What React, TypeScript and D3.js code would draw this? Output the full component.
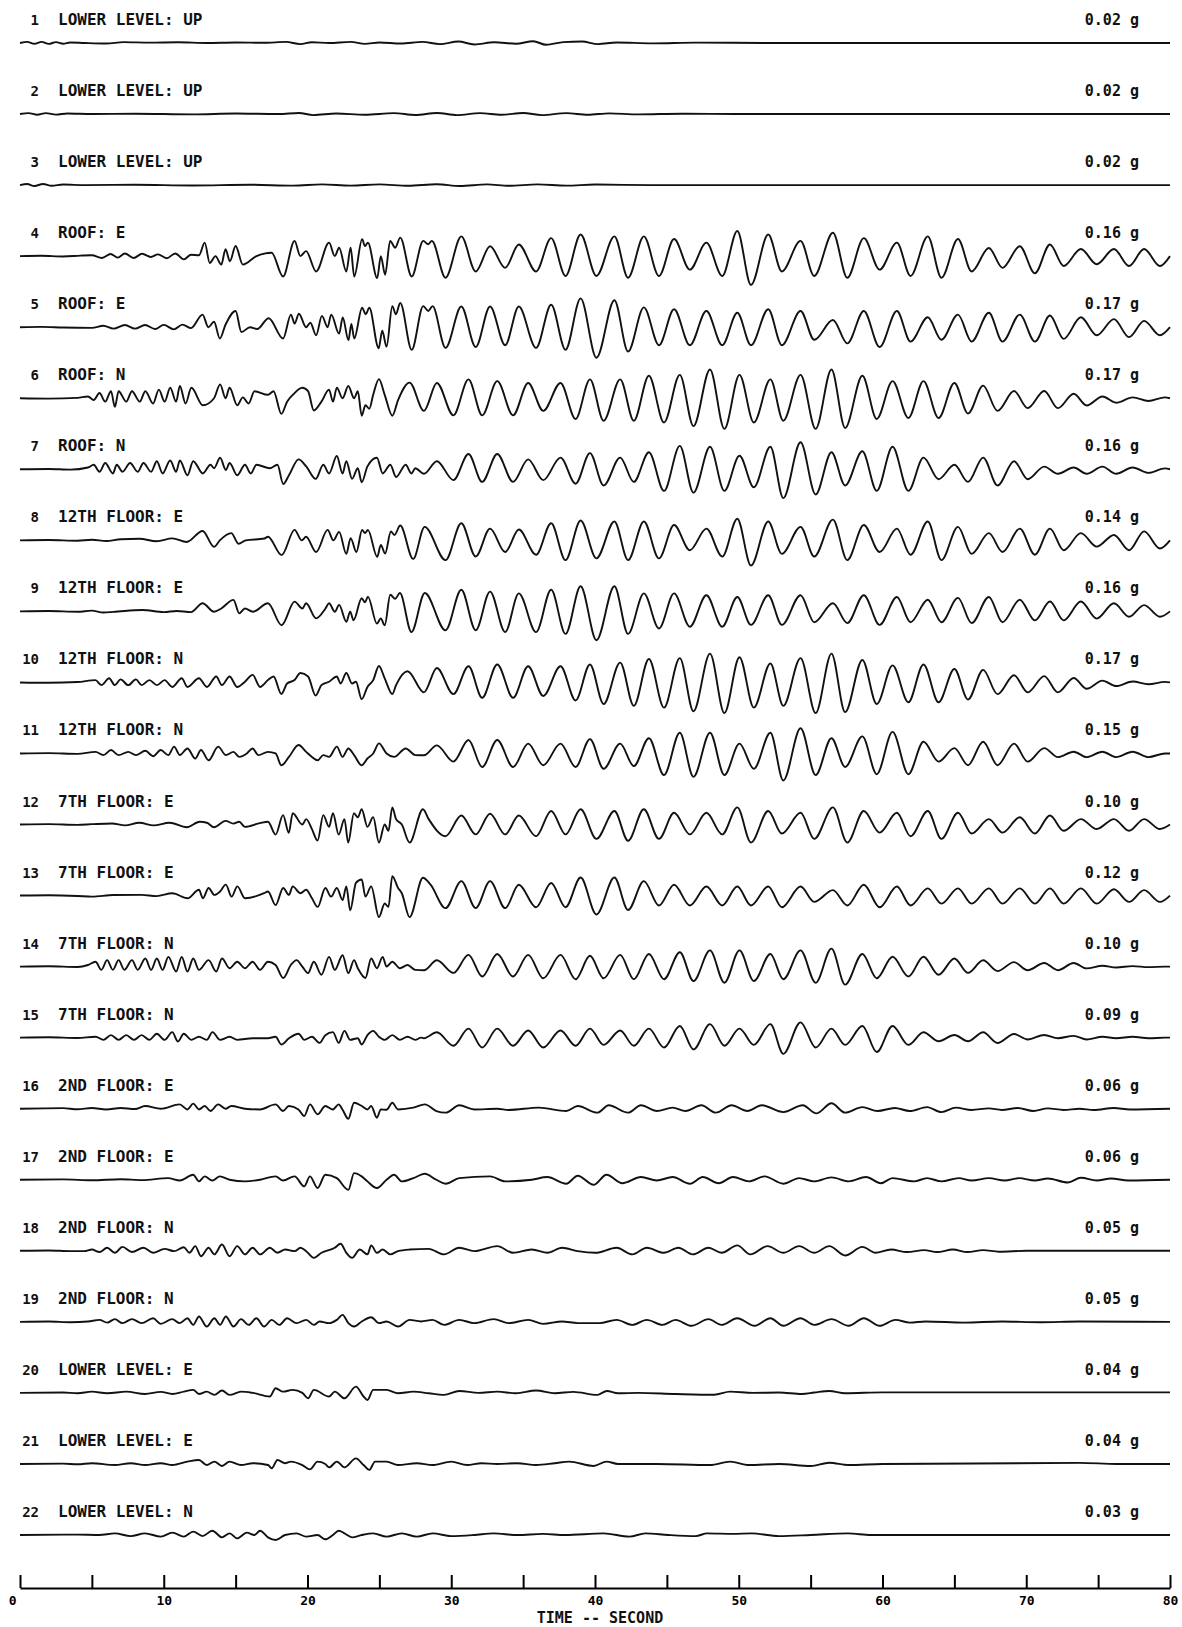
import React, { useRef, useEffect } from 'react';
import * as d3 from 'd3';

const FONT = '"DejaVu Sans Mono", "Liberation Mono", monospace';

const channelLabels = [
  'LOWER LEVEL: UP', 'LOWER LEVEL: UP', 'LOWER LEVEL: UP',
  'ROOF: E', 'ROOF: E', 'ROOF: N', 'ROOF: N',
  '12TH FLOOR: E', '12TH FLOOR: E', '12TH FLOOR: N', '12TH FLOOR: N',
  '7TH FLOOR: E', '7TH FLOOR: E', '7TH FLOOR: N', '7TH FLOOR: N',
  '2ND FLOOR: E', '2ND FLOOR: E', '2ND FLOOR: N', '2ND FLOOR: N',
  'LOWER LEVEL: E', 'LOWER LEVEL: E', 'LOWER LEVEL: N',
];
const peakAccel = [0.02, 0.02, 0.02, 0.16, 0.17, 0.17, 0.16, 0.14, 0.16, 0.17, 0.15,
  0.10, 0.12, 0.10, 0.09, 0.06, 0.06, 0.05, 0.05, 0.04, 0.04, 0.03];

const timeTicks = [0, 5, 10, 15, 20, 25, 30, 35, 40, 45, 50, 55, 60, 65, 70, 75, 80];

// times (s) of the troughs/peaks of the long period building response
const eastTimes = [29.6, 30.7, 31.7, 32.7, 33.75, 34.7, 35.9, 36.95, 37.95, 39.0, 40.1, 41.35, 42.3,
  43.4, 44.45, 45.5, 46.6, 47.75, 48.85, 49.9, 50.85, 52.05, 53.0, 54.3, 55.25, 56.55, 57.55, 58.7,
  59.8, 61.0, 61.95, 63.15, 64.1, 65.25, 66.2, 67.4, 68.35, 69.55, 70.6, 71.65, 72.6, 73.8, 74.9,
  76.1, 77.15, 78.2, 79.3];
const northTimes = [28.1, 29.0, 30.15, 31.2, 32.15, 33.2, 34.3, 35.35, 36.4, 37.6, 38.65, 39.65,
  40.6, 41.75, 42.7, 43.75, 44.8, 45.9, 46.85, 48.0, 49.0, 50.05, 51.05, 52.2, 53.1, 54.3, 55.35,
  56.45, 57.4, 58.6, 59.6, 60.7, 61.8, 62.85, 63.9, 65.0, 65.95, 67.0, 68.0, 69.15, 70.1, 71.25,
  72.2, 73.3, 74.2, 75.3, 76.25, 77.4, 78.5, 79.65];

// all accelerations below are in hundredths of g
const lowerUp1 = [[0, 0], [0.5, 0.6], [1, -0.4], [1.5, 0.6], [2, -0.5], [2.5, 0.5], [3, -0.4], [3.5, 0.3], [4.5, 0], [6, -0.3], [7.2, 0.5], [9, 0.2], [11, 0.4], [13, 0], [15, 0.3], [17, 0.1], [18.5, 0.6], [19.5, -0.6], [20.3, 0.4], [21.5, 0], [23, 0.6], [24, -0.5], [25, 0.3], [26.5, -0.3], [28, 0.6], [29.2, -0.6], [30.5, 0.8], [31.6, -0.8], [33, 0.4], [34.5, -0.4], [35.7, 1], [36.6, -1], [37.8, 0.5], [39.1, 0.8], [40.2, -0.6], [41.5, 0.3], [44, -0.2], [47, 0.2], [52, 0], [80, 0]];
const lowerUp2 = [[0, 0], [0.6, 0.5], [1.2, -0.4], [1.8, 0.5], [2.5, -0.3], [3.3, 0.3], [5, 0], [8, 0.2], [12, -0.2], [15, 0.3], [18, 0], [19.4, 0.6], [20.4, -0.6], [22, 0.3], [24, -0.4], [26, 0.5], [27.5, -0.5], [29, 0.6], [30.4, -0.6], [32, 0.5], [33.5, -0.4], [35, 0.6], [36.3, -0.6], [38, 0.5], [39.5, -0.4], [41, 0.4], [43, -0.2], [46, 0.2], [50, 0], [80, 0]];
const lowerUp3 = [[0, 0], [0.5, 0.6], [1, -0.5], [1.6, 0.6], [2.2, -0.4], [3, 0.3], [4.5, 0], [8, 0.2], [12, -0.2], [16, 0.2], [19, -0.3], [21, 0.4], [23, -0.3], [25, 0.4], [27, -0.4], [29, 0.5], [30.6, -0.5], [32.5, 0.4], [34, -0.4], [36, 0.4], [38, -0.3], [40, 0.3], [44, 0], [80, 0]];

const roofE4Early = [[0, 0], [1.5, 0.2], [3, -0.2], [4.2, 0.3], [5, 0.5], [5.7, -1], [6.3, 1.2], [6.8, -0.8], [7.3, 1.5], [7.9, -1], [8.5, 1.3], [9.1, -0.5], [9.6, 1], [10.2, -1.2], [10.8, 1.5], [11.4, -1.8], [11.9, 0.8], [12.45, 0.5], [12.85, 7.5], [13.2, -3.8], [13.6, 0], [14.0, -4.7], [14.3, 3.8], [14.6, -2.8], [15.0, 5.6], [15.5, -4.7], [16.45, 0], [17.5, 1.9], [18.3, -11.3], [19.1, 8.5], [19.5, 0], [19.9, 2.8], [20.6, -8.5], [21.5, 7.5], [21.9, 0], [22.2, 4.7], [22.7, -8.5], [23.0, 4.7], [23.25, -11.3], [23.8, 9.4], [24.0, 5.6], [24.2, 7.5], [24.85, -12.2], [25.1, 0], [25.4, -10.3], [25.75, 8.5], [26.1, 4.7], [26.45, 10.3], [27.25, -11.3], [28.05, 8.5], [28.4, 6.6], [28.65, 8.5]];
const roofE4Late = [-12, 11, -8.5, 5.5, -6.5, 6.5, -8.5, 10, -11, 12, -11, 11, -12, 11, -11, 9.5, -7.5, 7.5, -11, 14, -16, 12, -8.5, 8.5, -11, 13, -12, 10, -7.5, 7.5, -11, 11, -12, 9.5, -8.5, 4.5, -6.5, 5.5, -9.5, 6.5, -5.5, 4, -4.5, 4, -5.5, 4, -5.5];

const roofE5Early = [[0, 0], [1.5, 0.2], [3, -0.2], [5, -0.4], [5.8, 0.8], [6.5, -0.8], [7.3, 1.2], [8, -0.8], [8.7, 1.2], [9.4, -1], [10, 1.3], [10.7, -1.2], [11.3, 1.4], [11.9, -0.5], [12.7, 7], [13.1, 0], [13.5, 3], [13.9, -6.3], [14.3, 1.5], [15, 9], [15.4, -2.7], [16, 0], [16.5, -1], [17.3, 5], [18.3, -6.3], [18.85, 7], [19.1, 2], [19.4, 7.5], [19.9, 0], [20.2, 2.5], [20.6, -4.5], [21, 6.3], [21.4, 0], [21.65, 7], [22.2, -3.6], [22.45, 5.4], [22.85, -7.2], [23.05, 1.8], [23.25, -6.3], [23.8, 10.8], [24.05, 7.2], [24.3, 10.8], [24.95, -11.7], [25.2, -2], [25.5, -10.8], [25.9, 11.7], [26.15, 7.2], [26.45, 13.5], [27.25, -12.6], [28.05, 11.7], [28.4, 9], [28.7, 11.7]];
const roofE5Late = [-11.5, 11.5, -11, 11.5, -10, 11.5, -11.5, 12.5, -12.5, 16, -17, 15, -13.5, 11, -10, 10, -10, 9, -10, 8, -10, 10, -10, 9, -7, 4, -9, 9, -11, 9, -8, 5.5, -7, 7, -8, 8, -8, 7, -8, 6.5, -6.5, 5.5, -4.5, 4.5, -5.5, 3.5, -4.5];

const roofN6Early = [[0, 0], [2, -0.2], [4, 0.2], [4.73, 1], [5.13, -1], [5.53, 2.9], [5.93, -1.9], [6.33, 3.9], [6.6, -4.8], [6.86, 3.9], [7.39, -1.9], [7.79, 3.9], [8.33, -1.9], [8.72, 3.9], [9.26, -2.9], [9.66, 4.8], [10.06, -1.9], [10.45, 5.8], [10.86, -1.9], [11.12, 6.8], [11.52, -2.9], [11.92, 5.8], [12.72, -3.9], [13.5, 0], [13.92, 7.7], [14.3, 0], [14.58, 5.8], [15.11, -3.9], [15.5, 0.5], [15.91, -2.9], [16.31, 3.9], [17.25, 1.9], [17.64, 3.9], [18.18, -8.7], [18.58, -1.9], [18.98, 1.9], [19.64, 5.8], [20.04, 3.9], [20.44, -6.8], [20.97, -1.9], [21.5, 4.8], [21.77, -1.9], [22.04, 5.8], [22.44, 0], [22.84, 6.8], [23.24, 0], [23.5, 3.9], [23.77, -9.7], [24.03, -3.9], [24.3, -5.8], [24.57, 1.9], [24.97, 10.6], [25.37, 1.9], [25.9, -9.7], [26.3, -1], [27.1, 8.7]];
const roofN6Late = [-7, 8.5, -9.5, 10.5, -9.5, 9.5, -9.5, 8.5, -7, 8.5, -11.5, 10.5, -12.5, 10.5, -12.5, 12.5, -13.5, 13, -15.5, 16, -17, 13, -13.5, 10.5, -12.5, 13, -17, 16, -16.5, 12.5, -11.5, 9.5, -11, 9.5, -11, 8.5, -8.5, 7, -7, 4, -5.5, 4, -5.5, 2.5, -4, 1, -2.5, 0.5, -1.5, 0.5];

const roofN7Early = [[0, 0], [2, 0.2], [3.5, -0.2], [4.73, 1], [5.13, 2.5], [5.53, -1.4], [5.93, 3.5], [6.46, -2.3], [6.73, 2.5], [7.13, -1.4], [7.66, 3.5], [8.19, -1.4], [8.59, 3.5], [9.12, -1.4], [9.52, 4.5], [9.92, -2.3], [10.45, 4.9], [10.86, -1.4], [11.12, 4.9], [11.65, -3.3], [12.05, 4.5], [12.72, -2.3], [13.25, 2.5], [13.5, 0.6], [13.92, 6.4], [14.32, -0.4], [14.58, 3.5], [15.11, -3.3], [15.65, 2.5], [16.05, -2.3], [16.45, 2.5], [17.38, 0.6], [17.91, 2.5], [18.31, -8.2], [18.71, -3.3], [19.38, 5.5], [19.91, 1.6], [20.57, -5.3], [21.1, 2.5], [21.5, -2.3], [22.04, 7.4], [22.44, -2.3], [22.7, 4.5], [23.1, -5.3], [23.5, 0.6], [23.77, -7.2], [24.17, 1.6], [24.83, 6.4], [25.23, -2.3], [25.76, 2.5], [26.16, -4.3], [26.83, 2.5], [27.23, -2.3], [27.5, 0.6]];
const roofN7Late = [-2.5, 4.5, -6, 8.5, -7, 8.5, -7, 5.5, -6, 6.5, -8, 9, -9, 6.5, -7, 9.5, -12, 13, -13, 12.5, -12, 7.5, -10, 12.5, -16, 15, -14, 9.5, -9, 10, -12, 12.5, -12, 6.5, -5.5, 2.5, -7, 6.5, -9, 4.5, -5.5, 1.5, -2.5, 1, -2.5, 1.5, -2.5, 1, -2, 0.5];

const floor12E8Early = [[0, 0], [2, 0.2], [4, -0.2], [5, 0.3], [6, -0.4], [7, 0.6], [8.3, 0.9], [9.5, -0.5], [10.6, 1.1], [11.6, -0.9], [12.7, 5.2], [13.5, -3.6], [13.9, 0], [14.7, 4], [15.2, -1.9], [15.7, 0], [17, 1], [17.25, 2], [18.2, -8.2], [19.1, 5.8], [19.6, 0], [19.9, 2], [20.6, -6.5], [21.4, 5.8], [21.8, 0], [22.2, 4.7], [22.7, -7.5], [23, 1.2], [23.4, -6.5], [23.8, 5.8], [24.0, 4], [24.2, 5.8], [24.85, -9.2], [25.1, -2.6], [25.4, -7.3], [25.8, 4.9], [26.05, 3], [26.45, 8.2], [27.35, -10.3], [28.15, 7.5]];
const floor12E8Late = [-11, 9.5, -9, 6.5, -6.5, 6, -8, 9.5, -11, 11, -10, 10.5, -11, 10.5, -10, 8.5, -5.5, 6.5, -9, 12, -14, 10.5, -7.5, 7.5, -9, 11.5, -11, 8.5, -6.5, 6.5, -8, 10.5, -11, 7.5, -7.5, 4, -6.5, 6.5, -8, 6.5, -5.5, 4, -3.5, 3, -5.5, 5, -4.5];

const floor12E9Early = [[0, 0], [2, 0.2], [4, -0.2], [5, 0.4], [5.8, -0.6], [6.5, -0.3], [8.5, 0.8], [10, -0.4], [10.9, 0.2], [11.9, -0.4], [12.7, 4.5], [13.5, -0.2], [14, 1.6], [14.85, 6.4], [15.25, -1.1], [15.65, 1.6], [16.2, -0.2], [17.25, 4.5], [18.2, -7.7], [19.1, 5.4], [19.65, 1.6], [19.9, 4.5], [20.6, -3.9], [21.25, 1.6], [21.5, 4.5], [21.9, -0.2], [22.2, 3.6], [22.7, -5.8], [22.97, -0.2], [23.2, -4.9], [23.77, 7.3], [24.0, 5], [24.2, 8.2], [24.83, -6.8], [25.1, -3.9], [25.37, -7.7], [25.76, 9.2], [26.1, 7], [26.43, 10.2], [27.23, -11.5], [28.16, 10.2]];
const floor12E9Late = [-10.5, 12, -10.5, 11, -11.5, 10, -11.5, 12, -12.5, 14, -16, 14, -12.5, 10, -9.5, 10, -8.5, 9, -8.5, 8, -7.5, 9, -7.5, 9, -6, 4.5, -6.5, 9, -7.5, 8, -6, 6.5, -6, 7.5, -6.5, 8, -6, 6.5, -5, 5.5, -5, 5.5, -4, 4.5, -3, 3.5, -3];

const floor12N10Early = [[0, 0], [2, -0.2], [4, 0.2], [5.25, 1.3], [5.66, -1.5], [6.2, 2.3], [6.6, -1.5], [7, 1.7], [7.53, -1.5], [8.06, 1.7], [8.46, -1.5], [9, 1.3], [9.53, -1.5], [10.06, 1.3], [10.59, -2.5], [11.25, 2.3], [11.65, -2.5], [12.45, 2.3], [13, -2.5], [13.65, 3.3], [14.05, -1.5], [14.58, 3.3], [15.11, -2.5], [15.65, 0.4], [16.18, 4.2], [16.7, -2.5], [17.25, 1.3], [17.64, 3.3], [18.18, -6.4], [18.58, -0.6], [19.1, 1.3], [19.51, 5.2], [20.04, 3.3], [20.57, -7.3], [20.97, -1.5], [21.5, 0.4], [22.04, 3.3], [22.3, -0.6], [22.7, 5.2], [23.1, -0.6], [23.37, 0.4], [23.77, -9.3], [24.17, -2.5], [24.57, 1.3], [24.97, 9.1], [25.37, 2.3], [25.9, -6.4], [26.16, -1.5], [26.96, 6.2]];
const floor12N10Late = [-5.5, 8, -6.5, 9, -8.5, 10, -8.5, 9, -7.5, 9, -10, 10, -12, 11, -13, 13, -14, 13.5, -16, 16, -17, 14, -14, 10.5, -13, 13.5, -17, 16, -16.5, 12.5, -12, 9.5, -11, 10, -11, 7.5, -9.5, 7, -6.5, 4, -5.5, 3.5, -5.5, 2.5, -3.5, 1, -2, 0.5, -1, 0.3];

const floor12N11Early = [[0, 0], [2, 0.2], [4, -0.2], [5.26, 0.9], [5.8, -0.9], [6.33, 1.9], [6.86, -0.9], [7.53, 0.9], [8.06, -0.9], [8.72, 1.5], [9.26, -1.5], [9.79, 1.9], [10.32, -0.9], [10.72, 3.8], [11.12, -0.9], [11.65, 2.8], [12.19, -2.8], [12.59, 1.9], [13.12, -3.8], [13.79, 3.8], [14.32, -0.9], [14.85, 0.9], [15.25, -1.9], [15.78, 0], [16.18, 2.8], [16.58, -0.9], [17.25, 0.9], [17.78, 0], [18.18, -6.6], [18.71, -1.9], [19.38, 4.7], [19.91, 0.9], [20.31, -1.9], [20.7, -3.8], [21.1, -0.9], [21.5, -1.9], [22.04, 3.8], [22.44, -1.9], [22.84, 2.8], [23.24, -0.9], [23.77, -6.6], [24.17, -2.8], [24.57, 0], [24.97, 5.6], [25.5, 0], [26.03, -1.9], [26.83, 2.8], [27.5, -0.9]];
const floor12N11Late = [-1, 4.5, -4.5, 7.5, -7.5, 7.5, -7.5, 5.5, -6.5, 5.5, -7.5, 8, -8.5, 5.5, -7, 8.5, -12, 11.5, -13, 11.5, -12, 5.5, -8.5, 11.5, -15, 14, -12, 8.5, -7.5, 9.5, -11.5, 12, -11.5, 6.5, -4.5, 3, -6.5, 6.5, -6.5, 5.5, -4.5, 3, -2, 1, -2, 1, -2, 1, -2, 0];

const floor7E12Early = [[0, 0], [2, 0.2], [4, -0.2], [5, 0.2], [6.4, 0.6], [7.3, -0.5], [8.3, 1], [9.3, -0.5], [10.4, 1], [11.6, -1.5], [12.5, 1.5], [13, 1], [13.5, -1.5], [14.3, 2], [14.85, 0.5], [15.25, 1.5], [15.65, -1.3], [16.7, 0.8], [17.25, 1.5], [17.78, -5.6], [18.3, 5.2], [18.7, -4.6], [18.97, 6.3], [19.64, 0], [19.91, 3], [20.3, -2.4], [20.7, -8.9], [21.1, 5.2], [21.5, -1.3], [21.77, 6.3], [22.17, -5.6], [22.57, 3], [22.83, -10], [23.23, 6.3], [23.5, 4], [23.77, 8.5], [24.17, -1.3], [24.57, 4.1], [24.97, -10], [25.37, 0], [25.63, -3.5], [25.9, 9.5], [26.16, 3], [26.56, 0], [27.1, -10], [28.03, 8.5], [28.43, 3]];
const floor7E12Late = [-6.5, 5, -5.5, 6, -5.5, 5, -6.5, 7.5, -5.5, 8.5, -8, 7.5, -9, 8.5, -8, 6.5, -5.5, 6.5, -5.5, 9.5, -10, 7.5, -5, 6.5, -8, 9.5, -10, 7.5, -4.5, 6.5, -6.5, 7.5, -8, 6.5, -5, 3, -4.5, 4, -5, 5, -3.5, 3, -2.5, 3, -3.5, 3, -2.5];

const floor7E13Early = [[0, 0], [2, 0.2], [4, -0.2], [5, -0.6], [6.5, 0.3], [8.46, 0.4], [9.5, -0.3], [10.6, 1.3], [11.65, -1.5], [12.45, 3.2], [12.72, -1.5], [13.12, 4.2], [13.52, 0.4], [13.92, 2.3], [14.32, 6.1], [14.72, -0.6], [15.12, 5.1], [15.65, -1.5], [16.98, 1.3], [17.25, 2.3], [17.78, -5.3], [18.31, 4.2], [18.71, 0.4], [18.97, 5.1], [19.51, 1.3], [19.91, 3.2], [20.31, -1.5], [20.71, -6.3], [21.24, 4.2], [21.64, -0.6], [22.04, 4.2], [22.44, -2.5], [22.7, 5.1], [22.97, -8.2], [23.37, 7], [23.77, 8.9], [24.03, -0.6], [24.43, 5.1], [24.97, -12], [25.37, -4.4], [25.63, -6.3], [25.9, 10.8], [26.3, 4.2], [26.56, 1.3], [27.1, -12], [28.03, 9.9], [28.56, 6.1]];
const floor7E13Late = [-7, 8, -7, 8, -7, 6, -6.5, 7, -6.5, 10, -10.5, 10, -8, 8, -5.5, 6, -5.5, 5, -5.5, 5, -5.5, 5, -6.5, 5, -3.5, 3, -5.5, 6, -6.5, 5, -5.5, 4, -4.5, 4, -4.5, 4, -4.5, 4, -4.5, 4, -4.5, 4, -4.5, 3.5, -3.5, 3, -3.5];

const floor7N14Early = [[0, 0], [2, 0.2], [4, -0.2], [4.73, 0.9], [5.26, 2.7], [5.66, -1.8], [6.06, 3.6], [6.46, -1.8], [6.86, 3.6], [7.26, -1.8], [7.79, 3.6], [8.19, -1.8], [8.72, 4.5], [9.12, -1.8], [9.52, 4.5], [9.92, -1.8], [10.32, 5.4], [10.86, -2.7], [11.25, 5.4], [11.65, -2.7], [12.05, 4.5], [12.45, -1.8], [13.12, 3.6], [13.65, -2.7], [14.05, 4.5], [14.58, -0.9], [15.11, 2.7], [15.65, -0.9], [16.18, 2.7], [16.7, -1.8], [17.25, 2.7], [17.78, 0.9], [18.31, -6.3], [18.84, 0.9], [19.24, 3.6], [19.64, 0], [20.04, -3.6], [20.44, 2.7], [20.97, -4.5], [21.5, 5.4], [21.9, -1.8], [22.44, 6.3], [22.84, -3.6], [23.24, 3.6], [23.5, -0.9], [24.03, -6.3], [24.43, 4.5], [24.83, -0.9], [25.23, 5.4], [25.5, 0], [25.9, 2.7], [26.43, -0.9], [26.96, 0.9], [27.5, -1.8]];
const floor7N14Late = [-2, 3.5, -3.5, 6.5, -5.5, 7, -5.5, 6.5, -6.5, 6.5, -7, 6, -6.5, 6.5, -7, 7, -7, 8, -8, 9, -9, 9, -8, 7, -7, 9, -9, 10, -10, 7, -6.5, 5.5, -5.5, 5.5, -4.5, 4.5, -3.5, 3.5, -2.5, 2.5, -2, 2, -2, 2, -1, 0.5, -0.5, 0.3, -0.3, 0];

const floor7N15Early = [[0, 0], [2, 0.2], [4, -0.2], [5.26, 0.5], [5.8, -1.2], [6.33, 1.4], [6.86, -1.2], [7.39, 1.4], [7.93, -1.2], [8.46, 1.4], [9, -1.2], [9.52, 2.2], [10.06, -1.2], [10.59, 3.1], [10.99, -2.1], [11.39, 2.2], [11.92, -1.2], [12.45, 0.5], [12.99, -1.2], [13.39, 3.1], [13.92, -1.2], [14.58, 0.5], [15.11, -1.2], [16.18, -0.3], [17.25, -0.3], [17.78, 0.5], [18.18, -3.8], [18.71, -0.3], [19.38, 2.2], [19.78, -1.2], [20.31, 0.5], [20.84, -2.9], [21.24, 1.4], [21.77, 3.1], [22.17, -2.9], [22.57, 3.8], [22.97, -1.2], [23.5, -0.3], [23.77, -3.8], [24.17, 1.4], [24.57, 3.8], [24.97, 0.5], [25.37, -1.2], [25.9, 1.4], [26.43, -1.2], [26.96, 0.5], [27.5, -1.2], [27.9, 0]];
const floor7N15Late = [-0.3, 3, -4.5, 5, -5.5, 5, -4.5, 4, -5.5, 4, -4.5, 5, -4, 4, -4.5, 5, -5.5, 6.5, -6.5, 7.5, -4.5, 5, -4, 7.5, -9, 8.5, -5.5, 5, -4, 6.5, -8, 6.5, -4, 3, -2, 1.5, -2, 3, -3, 2, -1, 1.5, -0.3, 1, -1, 0.5, -0.3, 0.5, -0.3, 0];

const floor2E16 = [[0, 0], [3, 0.3], [4, -0.3], [5, 0.4], [6, -0.4], [7, 0.4], [8, -0.2], [8.7, 1.5], [9.8, 0], [11.1, 2.4], [11.65, -0.4], [12.05, 2.8], [12.45, -0.4], [12.85, 1.5], [13.25, -1.3], [13.78, 2.4], [14.3, 0], [14.7, 1.5], [15.65, 0], [16.7, -0.4], [17.78, 2.4], [18.3, -1.3], [18.7, 1.5], [19.37, -0.4], [19.77, -4.1], [20.17, 2.4], [20.7, -3.1], [21.24, 1.5], [21.77, -0.4], [22.17, 2.4], [22.43, -0.4], [22.84, -5.6], [23.24, 3.3], [23.77, 1.5], [24.17, -0.4], [24.43, 1.5], [24.83, -5], [25.1, -0.4], [25.5, -0.6], [25.9, 3.3], [26.3, -0.4], [27.36, 0.6], [28.16, 2.4], [28.96, -1.3], [29.62, -2.2], [30.56, 1.9], [31.6, -0.4], [33.2, 0], [34, -0.7], [36.1, 0.6], [38, -1.3], [38.8, 1.5], [40.16, -2.2], [40.96, 1.9], [42.3, -2.2], [43.2, 1.9], [44.3, -1.3], [45.4, 0.6], [46.3, -1.3], [47.4, 1.9], [48.4, -2.2], [49.5, 1.9], [50.6, -1.3], [51.6, 1.9], [53.1, -1.9], [54.45, 1.9], [55.4, -2.6], [56.45, 3], [57.4, -2.2], [58.6, 0.9], [59.65, -1.3], [60.85, 0.4], [61.9, -1.3], [63.1, 0.9], [64.1, -1.9], [65.1, 0.6], [66.2, -0.7], [67.4, 0.2], [68.3, -0.7], [69.4, 0.4], [70.5, -1.3], [71.5, 0.2], [72.6, -0.7], [73.7, 0], [74.7, -0.7], [76.1, 0.4], [77.2, -0.4], [80, 0]];
const floor2E17 = [[0, 0], [3, 0.2], [5, -0.3], [7, 0.3], [8.5, -0.2], [10.3, 0.9], [11.12, -0.4], [12.05, 2.8], [12.45, -0.9], [12.85, 1.9], [13.38, -0.4], [13.9, 1.9], [14.58, 0], [15.65, -0.9], [16.7, 0], [17.78, 1.9], [18.3, -0.4], [19.1, 1.9], [19.77, -3.7], [20.17, 1.9], [20.7, -4.6], [21.24, 2.8], [22.04, 0.9], [22.84, -5.6], [23.24, 3.7], [23.77, 1.9], [24.17, -0.9], [24.83, -4.6], [25.5, 0], [26.03, 2.8], [26.56, -0.9], [27.36, 0.9], [28.16, 3.3], [28.96, 0], [29.62, -2.2], [30.56, 0.9], [32.7, 1.9], [33.75, -0.9], [35.6, 0], [36.68, 1.5], [38, -2.2], [38.8, 2.2], [39.9, -2.8], [40.8, 2.8], [41.9, -1.9], [43.2, 1.5], [44.3, -0.4], [45.4, 1.5], [46.6, -2.2], [47.5, 1.5], [48.6, -1.9], [49.6, 1.5], [50.7, -0.9], [51.8, 1.9], [53.1, -2.2], [54.2, 0.9], [55.25, -0.9], [56.45, 1.3], [57.65, -0.9], [58.85, 1.5], [59.9, -1.9], [60.7, 0.9], [62.2, -0.9], [63.1, 0.9], [64.1, -0.9], [65.3, 0.9], [66.2, -0.4], [67.4, 0.9], [68.5, -0.4], [69.5, 0.9], [70.6, -0.4], [71.5, 0.7], [72.9, -1.5], [73.8, 1.1], [74.9, -0.4], [75.9, 0.7], [77.1, -0.4], [80, 0]];
const floor2N18 = [[0, 0], [2, 0.2], [3.5, -0.2], [4.47, -0.2], [5, 0.7], [5.53, -0.7], [6.06, 1.7], [6.6, -1.1], [7.13, 2.2], [7.79, -0.7], [8.59, 1.7], [9.26, -1.1], [10.06, 1.1], [10.72, -0.2], [11.39, 2], [11.79, -1.1], [12.19, 2.6], [12.59, -3], [13.12, 1.7], [13.52, -2], [14.05, 3.5], [14.58, -3], [15.11, 2.6], [15.65, -2], [16.18, 1.7], [16.71, -2], [17.38, 1.7], [17.91, -1.1], [18.44, 0.7], [19.11, -0.2], [19.51, 1.7], [19.91, -0.2], [20.44, -3.9], [20.97, -1.1], [21.9, 1.7], [22.3, 3.9], [22.7, -1.1], [23.1, -3.9], [23.64, 0.7], [24.17, -2], [24.43, 3], [24.83, -1.1], [25.23, 0.7], [25.76, -2], [26.3, -0.2], [27.1, 0.7], [28.43, 1.1], [29.5, -2], [30.56, 1.7], [31.6, -0.2], [33.2, 2.6], [34.3, -1.1], [35.6, 0.7], [36.7, -1.1], [37.7, 1.7], [38.8, -0.2], [40.03, -1.1], [41.5, 1.7], [42.6, -2], [43.6, 1.7], [44.8, -1.1], [45.8, 1.7], [46.8, -2], [47.9, 1.7], [48.8, -1.1], [49.9, 3], [50.8, -2], [52.0, 2.6], [53.1, -1.1], [54.2, 2.6], [55.25, -1.1], [56.3, 2.6], [57.4, -2.6], [58.6, 2.2], [59.5, -1.1], [60.6, 0.7], [61.7, -0.7], [62.9, 0.4], [63.8, -0.7], [64.9, 0.7], [65.9, -0.7], [67.0, 0.4], [68.1, -0.5], [70, 0], [80, 0]];
const floor2N19 = [[0, 0], [2, 0.2], [3.5, -0.2], [4.73, 0.2], [5.53, 1.1], [6.06, -0.4], [6.6, 1.5], [7.13, -0.7], [7.79, 1.5], [8.46, -0.7], [9.26, 2], [9.79, -1.1], [10.59, 1.5], [11.12, -0.7], [11.65, 2], [12.05, -1.7], [12.45, 3], [12.99, -2.6], [13.52, 2], [13.92, -1.7], [14.32, 3], [14.85, -2.6], [15.38, 1.5], [15.91, -1.7], [16.45, 2], [16.98, -2.6], [17.51, 1.1], [18.04, -1.7], [18.58, 2], [19.24, -0.7], [19.91, 1.1], [20.44, -1.7], [20.84, 0.2], [21.5, -0.7], [22.04, 1.1], [22.44, 3.9], [22.84, -0.7], [23.24, -2.6], [23.77, 0.2], [24.43, 2.6], [24.97, -0.7], [25.5, 0.2], [26.3, -2.6], [27.1, 1.1], [27.9, 0.2], [28.7, 1.1], [29.5, -1.7], [30.56, 1.1], [31.6, -0.7], [32.95, 1.5], [34, -0.7], [35.35, 1.1], [36.4, -1.1], [37.7, 0.2], [38.8, -0.7], [40.3, -0.7], [41.5, 1.1], [42.6, -1.7], [43.6, 1.1], [44.7, -1.7], [45.6, 1.1], [46.7, -2.2], [47.9, 1.5], [48.8, -1.7], [49.9, 2], [51.1, -2.2], [52.2, 2], [53.1, -2.2], [54.3, 2], [55.25, -1.7], [56.45, 1.5], [57.65, -2.2], [58.7, 2], [59.8, -2.2], [60.9, 1.1], [61.9, -0.4], [63, 0.2], [65.7, -0.4], [68.3, 0.2], [71, -0.2], [73.7, 0.2], [80, 0]];
const lowerE20 = [[0, 0], [3, 0.2], [4, -0.2], [5, 0.7], [6.06, -0.2], [7.4, 0.7], [8.7, -0.6], [9.8, 0.6], [10.6, -0.6], [11.4, 0.7], [12.05, 1.7], [12.45, -0.6], [12.99, 0.7], [13.52, -1.1], [14.05, 1.3], [14.58, -1.1], [15.38, 0.7], [16.2, 0], [17.38, -2], [17.78, 2.6], [18.3, 0.7], [18.97, 1.7], [19.64, 0], [20.04, -3], [20.44, 1.7], [21.5, -2], [21.9, 0.7], [22.57, -3], [23.37, 3.5], [23.9, -2], [24.17, -3.9], [24.57, 1.7], [25.5, 1.7], [26.3, -0.2], [27.36, 0.7], [28.43, -0.2], [29.5, -1.1], [30.56, 1.1], [31.9, 0], [33.2, 0.7], [34.5, -0.2], [35.9, 1.3], [37.2, -0.2], [38.5, 0.6], [40.16, -1.1], [40.83, 1.1], [41.6, -0.2], [43, 0], [45.6, -0.6], [48.3, -1], [49.4, 0.7], [51, 0], [52.8, 0.2], [54.4, -0.6], [55.25, 0.2], [56.3, 1.1], [57.4, -0.2], [60, 0.3], [70, 0.3], [80, 0.3]];
const lowerE21 = [[0, 0], [3, 0.2], [4, -0.2], [5, 0.4], [6.6, -0.6], [7.7, 0.4], [8.7, -0.6], [9.8, 0.4], [10.6, -0.6], [11.65, 1.3], [12.45, 2.2], [12.99, -0.6], [13.52, 1.3], [14.05, -1.1], [14.58, 1.3], [15.38, -0.6], [16.2, 0.4], [17.25, -0.6], [17.51, -2.4], [17.91, 2.2], [18.44, 0.4], [18.84, 1.3], [19.64, -0.6], [20.17, -3], [20.7, 1.3], [21.24, 0], [21.5, -1.9], [22.04, 1.3], [22.57, -1.9], [23.37, 3.1], [23.9, -0.6], [24.3, -3.3], [24.7, 1.3], [25.5, 1.3], [26.3, -0.6], [27.6, 0.4], [28.7, -0.6], [30, 1.3], [31.1, -0.6], [32.1, 0.4], [33.2, 0], [34.6, 0.4], [35.9, -0.6], [37.2, 0.4], [38.2, 1.3], [39.9, -1.1], [40.8, 1.3], [41.6, 0], [44.3, 0], [48, -0.6], [49.4, 1.3], [50.7, -0.6], [52.8, 0], [55, -1.1], [56.3, 0.7], [57.65, -0.6], [60, 0], [73.7, 0.6], [76.3, 0], [80, 0]];
const lowerN22 = [[0, 0], [4, 0.2], [5.5, 0], [6.6, 0.9], [7.7, -0.6], [8.7, 0.9], [9.8, -0.9], [10.6, 1.3], [11.4, -0.9], [12.05, 1.9], [12.7, -0.6], [13.38, 2.4], [14.05, -1.3], [14.58, 0.9], [15.11, -1.9], [15.78, 1.3], [16.31, 0], [16.7, 2.4], [17.25, -1.3], [17.78, -2.8], [18.44, 0], [19.24, 0.9], [19.91, -0.9], [20.7, 0], [21.24, -2.4], [21.77, 0], [22.17, 2.4], [22.57, 0.9], [23.1, -1.3], [23.77, 0], [24.57, 0.9], [25.5, -0.9], [26.56, 0.9], [27.6, -0.9], [28.7, 0.9], [30, -0.6], [31.6, 0], [32.95, 0.9], [34.6, 0], [36.4, 0.6], [37.9, 0], [40.6, 0.9], [42.4, -0.9], [43.5, 0.9], [45.1, 0], [47, -0.6], [47.8, 0.9], [49.6, 0.6], [50.9, 0.9], [52.8, -0.6], [55, 0], [57.6, 0.9], [59.2, 0], [80, 0]];

const traceTable = [
  { early: lowerUp1 }, { early: lowerUp2 }, { early: lowerUp3 },
  { early: roofE4Early, times: eastTimes, amps: roofE4Late },
  { early: roofE5Early, times: eastTimes, amps: roofE5Late },
  { early: roofN6Early, times: northTimes, amps: roofN6Late },
  { early: roofN7Early, times: northTimes, amps: roofN7Late },
  { early: floor12E8Early, times: eastTimes, amps: floor12E8Late },
  { early: floor12E9Early, times: eastTimes, amps: floor12E9Late },
  { early: floor12N10Early, times: northTimes, amps: floor12N10Late },
  { early: floor12N11Early, times: northTimes, amps: floor12N11Late },
  { early: floor7E12Early, times: eastTimes, amps: floor7E12Late },
  { early: floor7E13Early, times: eastTimes, amps: floor7E13Late },
  { early: floor7N14Early, times: northTimes, amps: floor7N14Late },
  { early: floor7N15Early, times: northTimes, amps: floor7N15Late },
  { early: floor2E16 }, { early: floor2E17 }, { early: floor2N18 }, { early: floor2N19 },
  { early: lowerE20 }, { early: lowerE21 }, { early: lowerN22 },
];

type Pair = [number, number];

function tracePoints(rec: any): Pair[] {
  const pts: Pair[] = rec.early.map((d: number[]) => [d[0], d[1]] as Pair);
  if (rec.times) {
    rec.times.forEach((t: number, k: number) => pts.push([t, rec.amps[k]]));
    pts.push([80, 0]);
  }
  return pts;
}

const W = 1182;
const H = 1627;

export default function App() {
  const axisRef = useRef<SVGGElement>(null);

  const x = d3.scaleLinear().domain([0, 80]).range([20, 1170]);
  const row = d3.scalePoint<number>().domain(d3.range(channelLabels.length)).range([43, 1535]);
  const accel = d3.scaleLinear().domain([-0.2, 0.2]).range([36, -36]);

  useEffect(() => {
    const axis = d3.axisBottom(x)
      .tickValues(timeTicks)
      .tickSizeInner(-13)
      .tickSizeOuter(0)
      .tickPadding(8)
      .tickFormat((d: any) => (d % 10 === 0 ? String(d) : ''));
    const g = d3.select(axisRef.current);
    g.call(axis as any);
    g.attr('font-family', FONT).attr('font-size', 13).attr('font-weight', 'bold');
    g.select('.domain').attr('stroke-width', 2);
    g.selectAll('.tick line').attr('stroke-width', 2);
    g.selectAll('.tick text').filter((d: any) => d === 0).attr('dx', '-0.6em');
  }, []);

  return (
    <svg width={W} height={H} style={{ position: 'absolute', left: 0, top: 0, background: '#fff' }}>
      {traceTable.map((rec, i) => {
        const base = row(i) as number;
        const line = d3.line<Pair>()
          .x(d => x(d[0]))
          .y(d => base + accel(d[1] / 100))
          .curve(d3.curveMonotoneX);
        return (
          <g key={i}>
            <path d={line(tracePoints(rec)) || ''} fill="none" stroke="#111" strokeWidth={1.9} strokeLinejoin="round" />
            <text x={39} y={base - 18} textAnchor="end" fontFamily={FONT} fontWeight="bold" fontSize={14} fill="#111">{i + 1}</text>
            <text x={58} y={base - 18} fontFamily={FONT} fontWeight="bold" fontSize={16} fill="#111">{channelLabels[i]}</text>
            <text x={1139} y={base - 18} textAnchor="end" fontFamily={FONT} fontWeight="bold" fontSize={15} fill="#111">
              {peakAccel[i].toFixed(2) + ' g'}
            </text>
          </g>
        );
      })}
      <g ref={axisRef} transform="translate(0,1588)" />
      <text x={600} y={1623} textAnchor="middle" fontFamily={FONT} fontWeight="bold" fontSize={15} fill="#111">
        TIME -- SECOND
      </text>
    </svg>
  );
}
